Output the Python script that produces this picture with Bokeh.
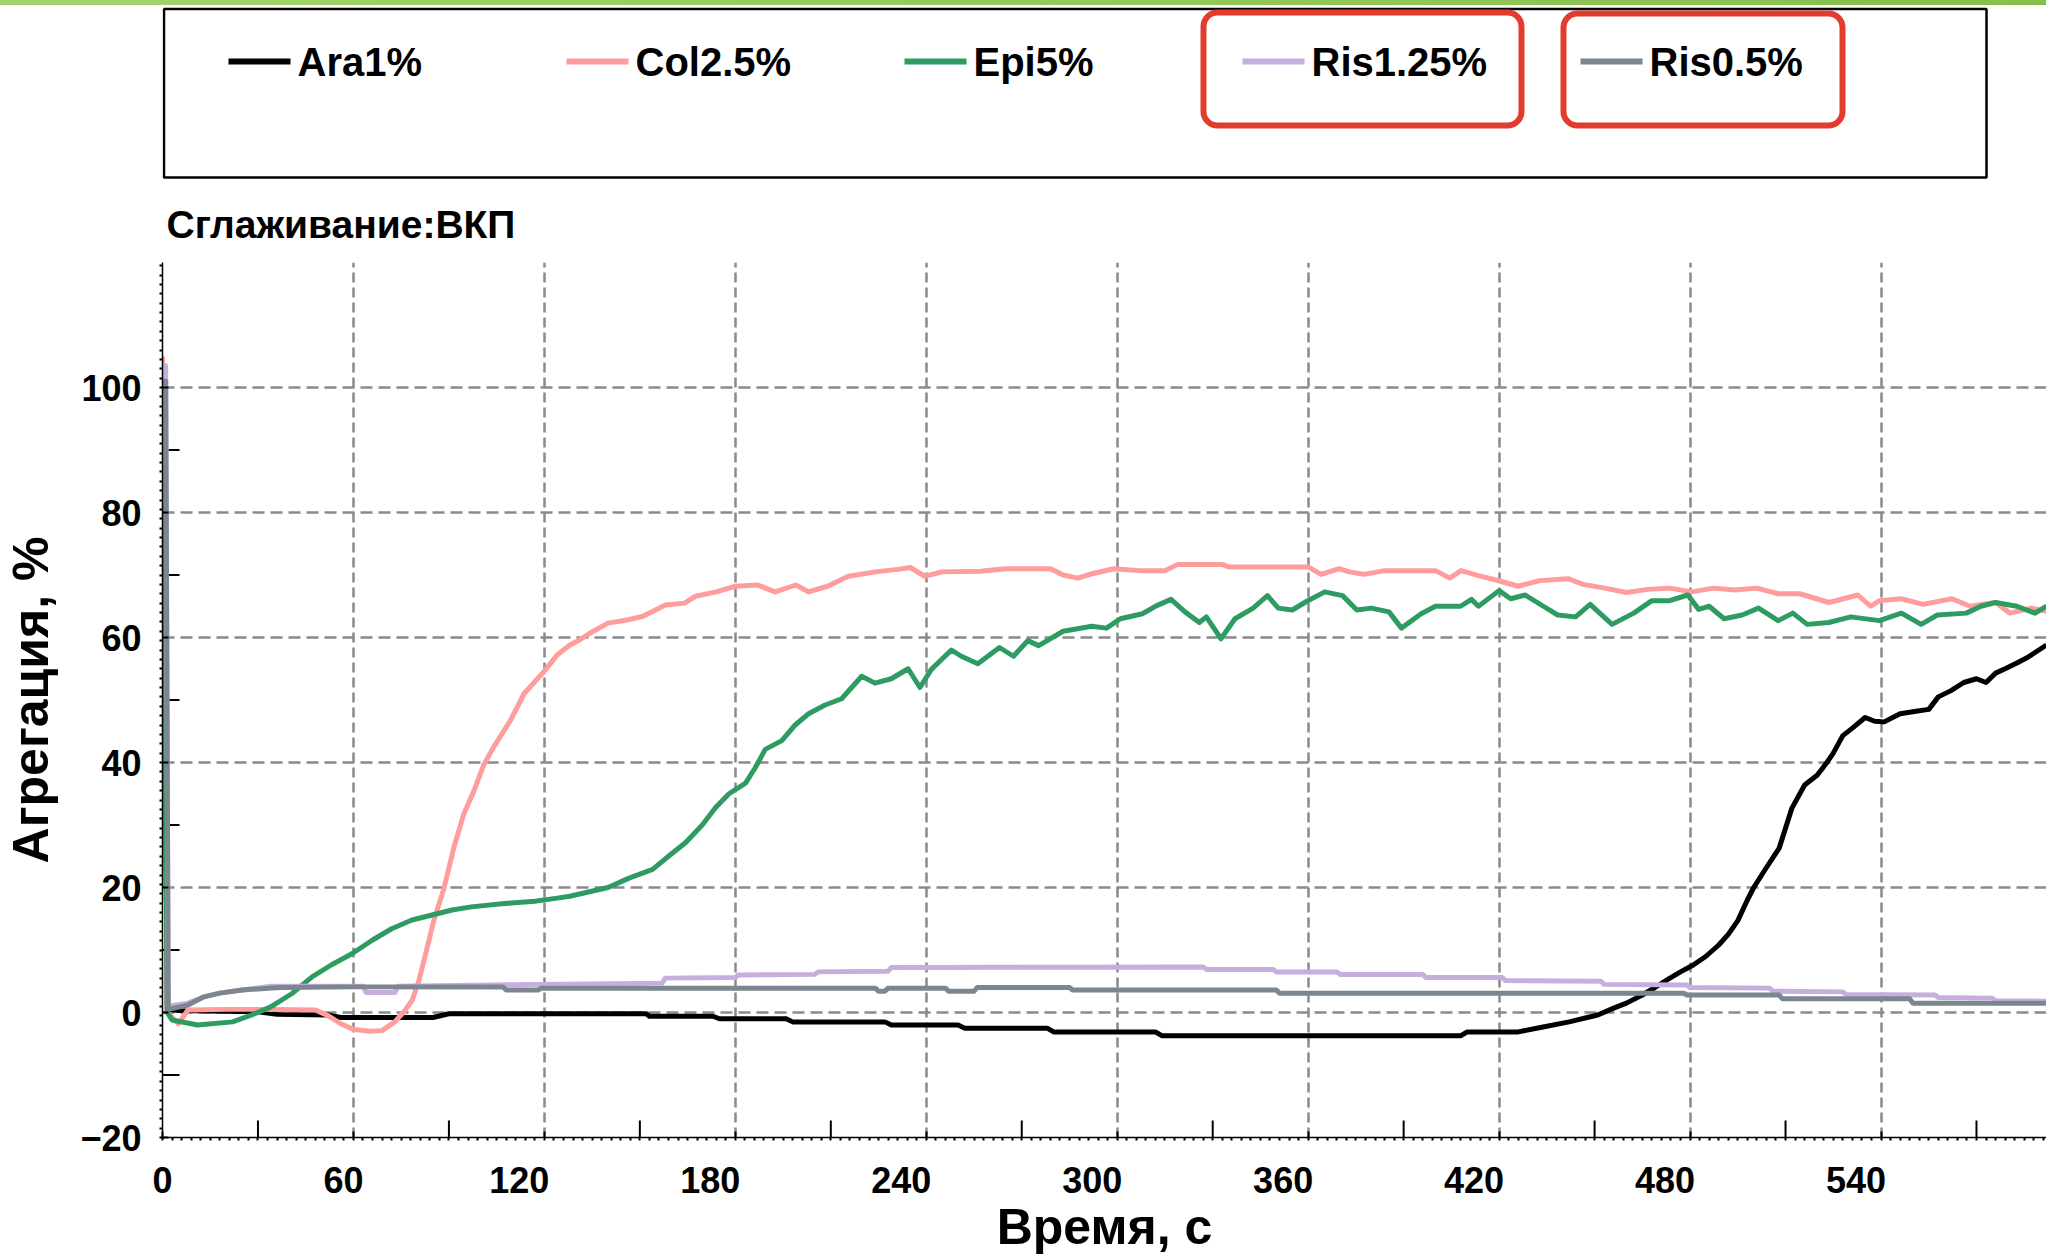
import numpy as np
from bokeh.plotting import figure
from bokeh.models import Range1d, FixedTicker, BoxAnnotation, Div
from bokeh.layouts import column
from bokeh.embed import file_html
from bokeh.resources import INLINE
from bokeh.core.properties import value

# ---------------- data ----------------
series_names = ["Ara1%", "Col2.5%", "Epi5%", "Ris1.25%", "Ris0.5%"]
series_colors = ["#000000", "#ff9c9c", "#2e9c62", "#c6aedf", "#7b868e"]

x_labeled = [0, 60, 120, 180, 240, 300, 360, 420, 480, 540]
x_medium = [30, 90, 150, 210, 270, 330, 390, 450, 510, 570]
y_labeled = [-20, 0, 20, 40, 60, 80, 100]
y_medium = [-10, 10, 30, 50, 70, 90]

x_title = "Время, с"
y_title = "Агрегация, %"
subtitle = "Сглаживание:ВКП"

ara_t = [0, 1.5, 5, 30, 36, 52, 56, 85, 90, 152, 153, 173, 175, 196, 198, 227, 229, 250, 252,
         278, 280, 312, 314, 408, 410, 426, 433, 442, 451, 456, 460, 465, 469, 473, 477, 481,
         485, 489, 492, 495, 498, 500, 504, 508, 510, 512, 516, 520, 523, 525, 528, 531, 535,
         538, 541, 546, 551, 555, 558, 562, 566, 570, 573, 576, 579, 583, 586, 589, 592]
ara_v = [100, 0.5, 0.3, 0.1, -0.3, -0.4, -0.8, -0.8, -0.2, -0.2, -0.6, -0.6, -1.0, -1.0, -1.5,
         -1.5, -2.0, -2.0, -2.5, -2.5, -3.1, -3.1, -3.7, -3.7, -3.1, -3.1, -2.4, -1.5, -0.4, 0.7,
         1.5, 2.8, 4.0, 5.3, 6.5, 7.6, 9.0, 10.8, 12.5, 14.7, 18.0, 20.0, 23.2, 26.3, 29.5, 32.7,
         36.4, 38.0, 40.0, 41.5, 44.3, 45.5, 47.2, 46.6, 46.5, 47.8, 48.2, 48.5, 50.5, 51.5, 52.8,
         53.4, 52.8, 54.3, 55.0, 56.0, 56.8, 57.8, 58.8]

col_t = [0, 1.5, 5, 8, 20, 35, 48, 52, 56, 60, 65, 69, 73, 76, 78.5, 80.5, 82.2, 85.3, 88.4,
         91.6, 94.7, 97.9, 101, 104.1, 109.4, 113.6, 119.8, 124, 128, 131, 134, 140, 146, 151,
         158, 164, 167.5, 174, 180, 187, 192.5, 199, 203, 209, 215.5, 224, 231, 235, 239.5, 245,
         257, 265, 279, 283, 287.6, 292, 299, 307, 315, 319, 333, 335, 360, 364, 369.7, 373,
         377.5, 384, 400, 404.5, 408, 413.5, 419, 426, 432.7, 441.8, 446.4, 453.2, 460, 466.8,
         473.6, 480.5, 487.3, 494, 501, 507.7, 514.5, 523.6, 532.7, 536.7, 539.5, 546.4, 553.2,
         562.3, 568, 576, 580.5, 587.3, 592]
col_v = [105, 0, -1.8, 0.4, 0.5, 0.5, 0.4, -0.5, -1.8, -2.7, -3.0, -2.9, -1.5, 0.2, 2, 5, 8.4,
         14.8, 19.8, 26.5, 31.8, 35.5, 39.7, 42.5, 46.8, 51, 54.5, 57.2, 58.8, 59.6, 60.6, 62.3,
         62.8, 63.4, 65.2, 65.5, 66.6, 67.3, 68.2, 68.4, 67.3, 68.4, 67.3, 68.2, 69.8, 70.5, 70.9,
         71.2, 69.8, 70.5, 70.6, 71, 71, 70, 69.5, 70.2, 71, 70.7, 70.7, 71.7, 71.7, 71.3, 71.3,
         70.1, 71, 70.5, 70.1, 70.7, 70.7, 69.5, 70.7, 69.9, 69.2, 68.2, 69.1, 69.4, 68.5, 67.9,
         67.2, 67.7, 67.9, 67.3, 67.9, 67.6, 67.9, 67, 67, 65.6, 66.8, 65, 65.9, 66.2, 65.3, 66.2,
         65, 65.6, 63.9, 64.7, 64.2]

epi_t = [0, 1.5, 3, 11, 22, 28, 34, 40.6, 47, 53, 59.5, 66, 72, 78.4, 84.7, 91, 97, 106.6, 117,
         124, 128, 140, 146.6, 154, 159, 164.4, 169.6, 173.8, 178, 183.2, 186.3, 189.4, 194.6,
         198.8, 203, 208.2, 213.4, 219.7, 223.9, 229, 234.3, 238, 241.6, 247.9, 251, 256.2, 263,
         267.4, 271.9, 275.3, 283, 292, 296.6, 301, 307.9, 312.4, 316.9, 321.3, 325.8, 328, 332.6,
         337, 342.7, 347.2, 350.6, 355, 359.6, 365.2, 370.8, 375.3, 379.8, 385.4, 389.3, 395.5,
         400, 407.9, 411.3, 413.5, 420, 423.6, 428.2, 433.9, 438.4, 444, 448.6, 455.5, 462.3, 468,
         473.6, 479.3, 482.7, 486, 490.7, 496.4, 501.5, 507.7, 512.3, 516.8, 523.6, 530.5, 539.5,
         546.4, 552.6, 557.7, 566.8, 571.4, 576, 582.7, 588.4, 592]
epi_v = [101, 0, -1.2, -2.0, -1.5, -0.4, 0.9, 3.0, 5.7, 7.6, 9.4, 11.6, 13.4, 14.8, 15.6, 16.4,
         16.9, 17.4, 17.8, 18.3, 18.6, 20, 21.5, 22.9, 25, 27.2, 30, 32.8, 35, 36.7, 39.2, 42.1,
         43.5, 46, 47.8, 49.2, 50.2, 53.8, 52.7, 53.4, 55, 52, 54.9, 58, 57, 55.8, 58.4, 57, 59.5,
         58.7, 61, 61.8, 61.5, 63, 63.8, 65.1, 66.1, 64.1, 62.4, 63.3, 59.8, 63, 64.7, 66.7, 64.7,
         64.4, 65.8, 67.3, 66.7, 64.4, 64.7, 64.1, 61.5, 63.8, 65, 65, 66.1, 65, 67.5, 66.2, 66.8,
         65, 63.6, 63.3, 65.3, 62.1, 63.9, 65.9, 65.9, 66.8, 64.5, 65, 63, 63.6, 64.7, 62.7, 63.9,
         62.1, 62.4, 63.3, 62.7, 63.9, 62.1, 63.6, 63.9, 65, 65.6, 65, 63.9, 65]

ris125_t = [0, 1.0, 1.8, 8, 13, 18, 25, 34, 63, 64, 73, 74, 119, 157, 158, 180, 181, 205, 206,
            228, 229, 327, 328, 349, 350, 369, 370, 396, 397, 421, 422, 452, 453, 479, 480, 505,
            506, 528, 529, 557, 558, 575, 576, 592]
ris125_v = [103.5, 103.5, 1.0, 1.5, 2.5, 3.1, 3.6, 4.2, 4.2, 3.2, 3.2, 4.2, 4.5, 4.7, 5.5, 5.6,
            6.0, 6.1, 6.5, 6.6, 7.2, 7.3, 6.9, 6.9, 6.5, 6.5, 6.1, 6.1, 5.6, 5.6, 5.1, 5.0, 4.5,
            4.4, 4.0, 3.9, 3.4, 3.3, 2.9, 2.8, 2.4, 2.3, 1.9, 1.8]

ris05_t = [0, 1.0, 1.8, 8, 13, 18, 25, 37, 60, 107, 108, 118, 119, 224, 225, 227, 228, 246, 247,
           255, 256, 285, 286, 350, 351, 478, 479, 508, 509, 549, 550, 592]
ris05_v = [101, 101, 0.5, 1.2, 2.5, 3.1, 3.6, 4.0, 4.1, 4.1, 3.6, 3.6, 3.9, 3.9, 3.4, 3.4, 3.9,
           3.9, 3.4, 3.4, 4.0, 4.0, 3.6, 3.6, 3.1, 3.1, 2.8, 2.8, 2.2, 2.2, 1.5, 1.5]

series_t = [ara_t, col_t, epi_t, ris125_t, ris05_t]
series_v = [ara_v, col_v, epi_v, ris125_v, ris05_v]

# ---------------- layout constants (page pixels) ----------------
W = 2046
FRAME_L = 162
STRIP_H = 5
HEAD_H = 262 - STRIP_H
MAIN_H = 997
BORDER_B = 122
X_END = 592
Y_MIN, Y_MAX = -20, 120
FONT = "Liberation Sans"

# thin green band along the top of the page
strip = Div(text="", width=W, height=STRIP_H, margin=0,
            styles={"background": "linear-gradient(90deg, #a4d36b, #86bf4c)"})

# ---------------- header (legend + subtitle) ----------------
h = figure(width=W, height=HEAD_H, x_range=Range1d(FRAME_L, W),
           y_range=Range1d(HEAD_H + STRIP_H, STRIP_H),
           x_axis_type=None, y_axis_type=None, output_backend="svg",
           toolbar_location=None, min_border_left=FRAME_L, min_border_right=0,
           min_border_top=0, min_border_bottom=0)
h.outline_line_color = None
h.grid.visible = False

h.add_layout(BoxAnnotation(left=163.5, right=1986, top=8.5, bottom=177, fill_color=None,
                           line_color="black", line_alpha=1, line_width=2.5))
for l, r, t in [(1203, 1521, 12), (1563, 1842, 13)]:
    h.add_layout(BoxAnnotation(left=l, right=r, top=t, bottom=125, fill_color=None,
                               line_color="#e23c2f", line_alpha=1, line_width=6,
                               border_radius=14))

n = len(series_names)
leg_x0 = [228 + 338 * i for i in range(n)]
leg_x1 = [x + 62 for x in leg_x0]
leg_y = [61] * n
h.segment(x0=leg_x0, y0=leg_y, x1=leg_x1, y1=leg_y, line_color=series_colors, line_width=6)
h.text(x=[x + 7 for x in leg_x1], y=leg_y, text=series_names, text_baseline="middle",
       text_font=value(FONT), text_font_style="bold", text_font_size="40px",
       text_color="black")
h.text(x=[166], y=[224], text=[subtitle], text_baseline="middle",
       text_font=value(FONT), text_font_style="bold", text_font_size="39px",
       text_color="black")

# ---------------- main plot ----------------
p = figure(width=W, height=MAIN_H, x_range=Range1d(0, X_END), y_range=Range1d(Y_MIN, Y_MAX),
           output_backend="svg", toolbar_location=None,
           min_border_left=FRAME_L, min_border_right=0, min_border_top=0,
           min_border_bottom=BORDER_B)
p.outline_line_color = None

p.xaxis.ticker = FixedTicker(ticks=x_labeled, minor_ticks=list(np.arange(0, X_END, 3.0)))
p.yaxis.ticker = FixedTicker(ticks=y_labeled, minor_ticks=list(np.arange(Y_MIN, Y_MAX + 0.1, 1.5)))
p.xaxis.axis_label = x_title
p.yaxis.axis_label = y_title

# the source software draws x tick labels slightly left of their ticks:
# pad them on the right with figure/punctuation spaces to reproduce that
PAD = {1: "", 2: "\u2007", 3: "\u2007\u2007\u2008"}
p.xaxis.major_label_overrides = {v: str(v) + PAD[len(str(v))] for v in x_labeled}

for ax in (p.xaxis[0], p.yaxis[0]):
    ax.axis_line_color = "black"
    ax.axis_line_width = 1.5
    ax.major_tick_in = 6
    ax.major_tick_out = 0
    ax.major_tick_line_width = 2
    ax.major_tick_line_color = "black"
    ax.minor_tick_in = 0
    ax.minor_tick_out = 3
    ax.minor_tick_line_width = 2
    ax.minor_tick_line_color = "black"
    ax.major_label_text_font = FONT
    ax.major_label_text_font_style = "bold"
    ax.major_label_text_font_size = "36px"
    ax.major_label_text_color = "black"
    ax.axis_label_text_font = FONT
    ax.axis_label_text_font_style = "bold"
    ax.axis_label_text_font_size = "50px"
    ax.axis_label_text_color = "black"

p.xaxis.major_label_standoff = 19
p.xaxis.axis_label_standoff = -5
p.yaxis.major_label_standoff = 18
p.yaxis.axis_label_standoff = 18

p.xgrid.ticker = FixedTicker(ticks=x_labeled[1:])
p.ygrid.ticker = FixedTicker(ticks=y_labeled[1:])
p.xgrid.grid_line_color = "#8a8a8a"
p.xgrid.grid_line_width = 2.5
p.xgrid.grid_line_dash = "10 5"
p.ygrid.grid_line_color = "#8a8a8a"
p.ygrid.grid_line_width = 2.5
p.ygrid.grid_line_dash = "12 6"

# medium (unlabelled) inward ticks
p.ray(x=x_medium, y=[Y_MIN] * len(x_medium), length=17, length_units="screen",
      angle=np.pi / 2, line_color="black", line_width=2)
p.ray(x=[0] * len(y_medium), y=y_medium, length=17, length_units="screen",
      angle=0, line_color="black", line_width=2)

for t, v, c in zip(series_t, series_v, series_colors):
    p.line(t, v, line_color=c, line_width=5, line_join="round")

layout = column(strip, h, p, spacing=0)
open("out.html", "w").write(file_html(layout, INLINE))
